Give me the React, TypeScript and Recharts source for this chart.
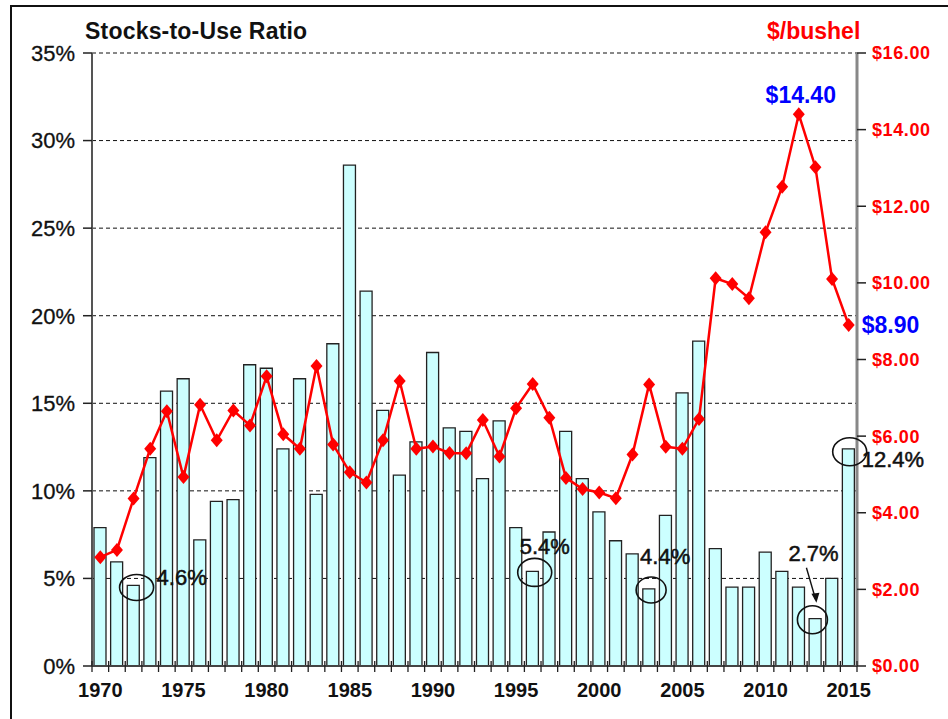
import React from "react";
import {
  ComposedChart,
  Bar,
  Line,
  XAxis,
  YAxis,
  CartesianGrid,
  ReferenceDot,
} from "recharts";

const years = [
  1970, 1971, 1972, 1973, 1974, 1975, 1976, 1977, 1978, 1979,
  1980, 1981, 1982, 1983, 1984, 1985, 1986, 1987, 1988, 1989,
  1990, 1991, 1992, 1993, 1994, 1995, 1996, 1997, 1998, 1999,
  2000, 2001, 2002, 2003, 2004, 2005, 2006, 2007, 2008, 2009,
  2010, 2011, 2012, 2013, 2014, 2015,
];

// stocks-to-use ratio, %
const stocksToUse = [
  7.9, 5.95, 4.6, 11.9, 15.7, 16.4, 7.2, 9.4, 9.5, 17.2,
  17.0, 12.4, 16.4, 9.8, 18.4, 28.6, 21.4, 14.6, 10.9, 12.8,
  17.9, 13.6, 13.4, 10.7, 14.0, 7.9, 5.4, 7.65, 13.4, 10.7,
  8.8, 7.15, 6.4, 4.4, 8.6, 15.6, 18.55, 6.7, 4.5, 4.5,
  6.5, 5.4, 4.5, 2.7, 5.0, 12.4,
];

// season average price, $/bushel
const prices = [
  2.84, 3.03, 4.37, 5.67, 6.65, 4.93, 6.82, 5.89, 6.67, 6.28,
  7.56, 6.05, 5.67, 7.83, 5.78, 5.06, 4.79, 5.89, 7.44, 5.67,
  5.73, 5.56, 5.55, 6.42, 5.47, 6.73, 7.36, 6.48, 4.91, 4.62,
  4.53, 4.38, 5.52, 7.35, 5.72, 5.67, 6.45, 10.12, 9.97, 9.6,
  11.32, 12.51, 14.4, 13.02, 10.1, 8.9,
];

const pctTicks = [0, 5, 10, 15, 20, 25, 30, 35];
const priceTicks = [0, 2, 4, 6, 8, 10, 12, 14, 16];
const labeledYears = [1970, 1975, 1980, 1985, 1990, 1995, 2000, 2005, 2010, 2015];

const FONT = '"Liberation Sans", Arial, sans-serif';
const W = 948;
const H = 719;
const LEFT_W = 92;
const RIGHT_W = 91;
const STEP = (W - LEFT_W - RIGHT_W) / years.length;

const data = years.map((y, i) => ({
  year: y,
  ratio: stocksToUse[i],
  price: prices[i],
}));

const Diamond = (props: any) => {
  const { cx, cy } = props;
  if (cx == null || cy == null) return null;
  return (
    <path
      d={`M${cx},${cy - 7}L${cx + 6},${cy}L${cx},${cy + 7}L${cx - 6},${cy}Z`}
      fill="#FF0000"
    />
  );
};

const YearTick = (props: any) => {
  const { x, y, payload, index } = props;
  const last = index === years.length - 1;
  return (
    <g>
      <line x1={x - STEP / 2} x2={x - STEP / 2} y1={y - 5} y2={y + 6} stroke="#222" strokeWidth={1.3} />
      {last && (
        <line x1={x + STEP / 2} x2={x + STEP / 2} y1={y - 5} y2={y + 6} stroke="#222" strokeWidth={1.3} />
      )}
      {labeledYears.includes(payload.value) && (
        <text
          x={x}
          y={y + 31}
          textAnchor="middle"
          fontFamily={FONT}
          fontWeight="bold"
          fontSize={20}
          fill="#111"
        >
          {payload.value}
        </text>
      )}
    </g>
  );
};

const noteText = {
  fontFamily: FONT,
  fontSize: 22,
  fill: "#111",
  stroke: "#111",
  strokeWidth: 0.5,
};

export default function App() {
  return (
    <div
      style={{
        position: "absolute",
        left: 0,
        top: 0,
        width: W,
        height: H,
        overflow: "hidden",
        background: "#fff",
      }}
    >
      <div
        style={{
          position: "absolute",
          left: 10,
          top: 5,
          width: 1000,
          height: 1000,
          borderLeft: "2px solid #111",
          borderTop: "2px solid #111",
        }}
      />
      <div
        style={{
          position: "absolute",
          left: 85,
          top: 18,
          fontFamily: FONT,
          fontWeight: "bold",
          fontSize: 23,
          color: "#111",
          letterSpacing: 0.2,
        }}
      >
        Stocks-to-Use Ratio
      </div>
      <div
        style={{
          position: "absolute",
          left: 767,
          top: 18,
          fontFamily: FONT,
          fontWeight: "bold",
          fontSize: 23,
          color: "#FF0000",
        }}
      >
        $/bushel
      </div>
      <ComposedChart
        width={W}
        height={H}
        data={data}
        margin={{ top: 53, right: 0, bottom: 0, left: 0 }}
        barSize={12}
      >
        <CartesianGrid
          yAxisId="left"
          vertical={false}
          stroke="#111"
          strokeDasharray="4 3"
        />
        <XAxis
          dataKey="year"
          type="category"
          interval={0}
          height={53}
          tickLine={false}
          tickSize={0}
          tickMargin={0}
          axisLine={{ stroke: "#444", strokeWidth: 2 }}
          tick={<YearTick />}
        />
        <YAxis
          yAxisId="left"
          orientation="left"
          width={LEFT_W}
          domain={[0, 35]}
          ticks={pctTicks}
          interval={0}
          tickFormatter={(v) => `${v}%`}
          tickSize={9}
          tickMargin={8}
          axisLine={{ stroke: "#555", strokeWidth: 2 }}
          tickLine={{ stroke: "#222", strokeWidth: 1.5 }}
          tick={{ fill: "#111", fontSize: 22, fontFamily: FONT, stroke: "#111", strokeWidth: 0.3 }}
        />
        <YAxis
          yAxisId="right"
          orientation="right"
          width={RIGHT_W}
          domain={[0, 16]}
          ticks={priceTicks}
          interval={0}
          tickFormatter={(v) => `$${v.toFixed(2)}`}
          tickSize={9}
          tickMargin={6}
          axisLine={{ stroke: "#888", strokeWidth: 3 }}
          tickLine={{ stroke: "#222", strokeWidth: 1.5 }}
          tick={{
            fill: "#FF0000",
            fontSize: 18,
            fontWeight: "bold",
            fontFamily: FONT,
            letterSpacing: 0.6,
          }}
        />
        <Bar
          yAxisId="left"
          dataKey="ratio"
          fill="#CCFFFF"
          stroke="#222"
          strokeWidth={1.3}
          isAnimationActive={false}
        />
        <Line
          yAxisId="right"
          dataKey="price"
          type="linear"
          stroke="#FF0000"
          strokeWidth={2.5}
          dot={<Diamond />}
          activeDot={false}
          isAnimationActive={false}
        />

        <ReferenceDot
          yAxisId="left"
          x={1972}
          y={4.6}
          shape={(p: any) => (
            <g>
              <ellipse cx={p.cx + 3} cy={p.cy + 2} rx={17} ry={13} fill="none" stroke="#111" strokeWidth={1.6} />
              <text x={p.cx + 23} y={p.cy} {...noteText}>4.6%</text>
            </g>
          )}
        />
        <ReferenceDot
          yAxisId="left"
          x={1996}
          y={5.4}
          shape={(p: any) => (
            <g>
              <ellipse cx={p.cx + 2} cy={p.cy + 1} rx={17} ry={14} fill="none" stroke="#111" strokeWidth={1.6} />
              <text x={p.cx - 13} y={p.cy - 17} {...noteText}>5.4%</text>
            </g>
          )}
        />
        <ReferenceDot
          yAxisId="left"
          x={2003}
          y={4.4}
          shape={(p: any) => (
            <g>
              <ellipse cx={p.cx + 2} cy={p.cy + 1} rx={15} ry={13} fill="none" stroke="#111" strokeWidth={1.6} />
              <text x={p.cx - 9} y={p.cy - 25} {...noteText}>4.4%</text>
            </g>
          )}
        />
        <ReferenceDot
          yAxisId="left"
          x={2013}
          y={2.7}
          shape={(p: any) => (
            <g>
              <ellipse cx={p.cx - 3} cy={p.cy + 1} rx={15} ry={14} fill="none" stroke="#111" strokeWidth={1.6} />
              <text x={p.cx - 27} y={p.cy - 58} {...noteText}>2.7%</text>
              <line x1={p.cx - 9} y1={p.cy - 51} x2={p.cx} y2={p.cy - 20} stroke="#111" strokeWidth={1.4} />
              <path
                d={`M${p.cx + 1},${p.cy - 16}L${p.cx - 4},${p.cy - 25}L${p.cx + 4},${p.cy - 26}Z`}
                fill="#111"
              />
            </g>
          )}
        />
        <ReferenceDot
          yAxisId="left"
          x={2015}
          y={12.4}
          shape={(p: any) => (
            <g>
              <ellipse cx={p.cx + 1} cy={p.cy + 3} rx={17} ry={14} fill="none" stroke="#111" strokeWidth={1.6} />
              <text x={p.cx + 13} y={p.cy + 18} {...noteText}>12.4%</text>
            </g>
          )}
        />
        <ReferenceDot
          yAxisId="right"
          x={2012}
          y={14.4}
          shape={(p: any) => (
            <text
              x={p.cx + 2}
              y={p.cy - 11}
              textAnchor="middle"
              fontFamily={FONT}
              fontWeight="bold"
              fontSize={23}
              fill="#0000FF"
            >
              $14.40
            </text>
          )}
        />
        <ReferenceDot
          yAxisId="right"
          x={2015}
          y={8.9}
          shape={(p: any) => (
            <text
              x={p.cx + 13}
              y={p.cy + 8}
              fontFamily={FONT}
              fontWeight="bold"
              fontSize={23}
              fill="#0000FF"
            >
              $8.90
            </text>
          )}
        />
      </ComposedChart>
    </div>
  );
}
